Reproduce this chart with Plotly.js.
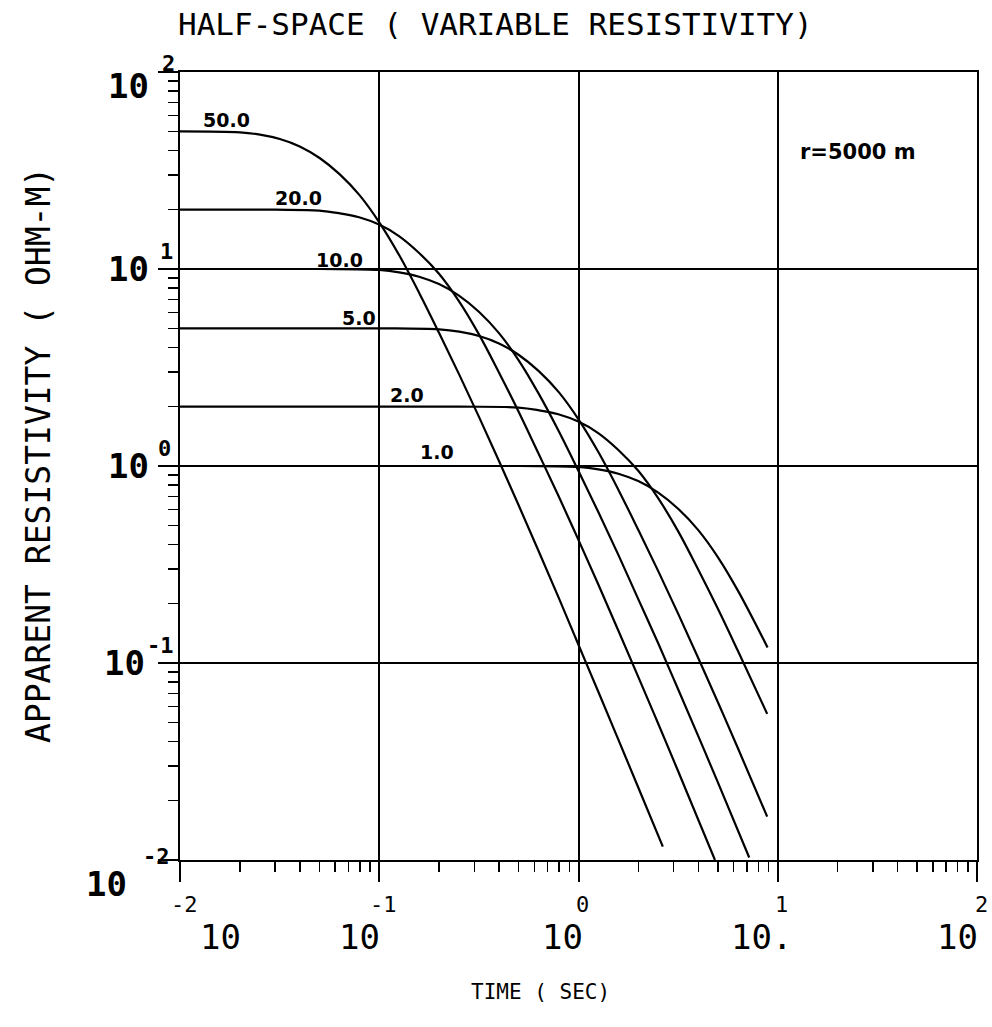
<!DOCTYPE html>
<html>
<head>
<meta charset="utf-8">
<script src="https://cdn.plot.ly/plotly-3.0.1.min.js"></script>
<style>
  html, body { margin: 0; padding: 0; background: #fff; }
  #chart { width: 992px; height: 1027px; }
</style>
</head>
<body>
<div id="chart"></div>
<script>
// Apparent resistivity of a homogeneous half-space, offset r = 5000 m,
// one curve per true resistivity (ohm-m).
const resistivities = [50, 20, 10, 5, 2, 1];
const curveLabels = ["50.0", "20.0", "10.0", "5.0", "2.0", "1.0"];

const time50 = [0.01, 0.02, 0.0252, 0.0317, 0.0399, 0.0502, 0.0632, 0.0796, 0.1002, 0.1262, 0.1589, 0.200, 0.252, 0.317, 0.399, 0.502, 0.632, 0.796, 1.002, 1.262, 1.589, 2.00, 2.65];
const rhoA50 = [50, 49.4, 48.1, 45.7, 41.9, 36.6, 30.3, 23.7, 17.2, 11.7, 7.54, 4.72, 2.91, 1.77, 1.06, 0.628, 0.368, 0.214, 0.123, 0.0708, 0.0406, 0.0232, 0.0117];

const time20 = [0.01, 0.03, 0.05, 0.0629, 0.0792, 0.0998, 0.1256, 0.158, 0.199, 0.251, 0.316, 0.397, 0.5, 0.629, 0.792, 0.998, 1.256, 1.58, 1.99, 2.51, 3.16, 4.84];
const rhoA20 = [20, 20, 19.8, 19.2, 18.3, 16.8, 14.7, 12.1, 9.48, 6.87, 4.67, 3.01, 1.89, 1.16, 0.708, 0.423, 0.251, 0.147, 0.0855, 0.0493, 0.0283, 0.0100];

const time10 = [0.01, 0.05, 0.1, 0.1259, 0.1585, 0.1995, 0.2512, 0.3162, 0.398, 0.501, 0.631, 0.794, 1.0, 1.259, 1.585, 1.995, 2.512, 3.162, 3.981, 5.012, 7.19];
const rhoA10 = [10, 10, 9.89, 9.62, 9.14, 8.38, 7.33, 6.07, 4.74, 3.44, 2.33, 1.51, 0.944, 0.582, 0.354, 0.211, 0.126, 0.0736, 0.0428, 0.0247, 0.0103];

const time5 = [0.01, 0.1, 0.2, 0.252, 0.317, 0.399, 0.502, 0.632, 0.796, 1.002, 1.262, 1.589, 2.0, 2.52, 3.17, 3.99, 5.02, 6.32, 8.85];
const rhoA5 = [5, 5, 4.94, 4.81, 4.57, 4.19, 3.66, 3.03, 2.37, 1.72, 1.17, 0.754, 0.472, 0.291, 0.177, 0.106, 0.0628, 0.0368, 0.0166];

const time2 = [0.01, 0.25, 0.5, 0.629, 0.792, 0.998, 1.256, 1.58, 1.99, 2.51, 3.16, 3.97, 5.0, 6.29, 8.85];
const rhoA2 = [2, 2, 1.98, 1.92, 1.83, 1.68, 1.47, 1.21, 0.948, 0.687, 0.467, 0.301, 0.189, 0.116, 0.0552];

const time1 = [0.01, 0.5, 1.0, 1.259, 1.585, 1.995, 2.512, 3.162, 3.981, 5.012, 6.31, 8.89];
const rhoA1 = [1, 1, 0.989, 0.962, 0.914, 0.838, 0.733, 0.607, 0.474, 0.344, 0.233, 0.120];

const decadeExponents = [-2, -1, 0, 1, 2];
const decadeMantissaX = ["10", "10", "10", "10.", "10"];
const exponentText = ["-2", "-1", "0", "1", "2"];

const titleText = "HALF-SPACE ( VARIABLE RESISTIVITY)";
const xTitleText = "TIME ( SEC)";
const yTitleText = "APPARENT RESISTIVITY ( OHM-M)";
const offsetText = "r=5000 m";

const series = [
  [time50, rhoA50], [time20, rhoA20], [time10, rhoA10],
  [time5, rhoA5], [time2, rhoA2], [time1, rhoA1]
];

const traces = series.map((s, i) => ({
  x: s[0], y: s[1], type: "scatter", mode: "lines",
  name: curveLabels[i],
  line: { color: "#000", width: 2.2, shape: "spline", smoothing: 1 },
  hoverinfo: "skip", showlegend: false
}));

// plot frame in pixels
const L = 180, R = 977, T = 72, B = 860;
const W = 992, H = 1027;
const px = x => (x - L) / (R - L);
const py = y => (B - y) / (B - T);

const plotter = "DejaVu Sans Mono, monospace";
const stencil = "DejaVu Sans, sans-serif";

const ann = [];
function addText(text, x, y, size, family, extra) {
  ann.push(Object.assign({
    text: text, xref: "paper", yref: "paper", x: px(x), y: py(y),
    xanchor: "center", yanchor: "middle", showarrow: false,
    font: { family: family, size: size, color: "#000" }
  }, extra || {}));
}

// x-axis decade labels: mantissa below, exponent above
const xMantissaShift = [40, -20, -16, -16, -20];
decadeExponents.forEach((e, i) => {
  const tx = L + (e + 2) * (R - L) / 4;
  addText(decadeMantissaX[i], tx + xMantissaShift[i], 937, 34, plotter);
  addText(exponentText[i], tx + 4, 904, 22, plotter);
});

// y-axis decade labels
const yMantissaX = [128, 128, 128, 124, 106];
const yExpX = [168, 166, 164, 160, 156];
decadeExponents.slice().reverse().forEach((e, i) => {
  const ty = T + i * (B - T) / 4;
  const expo = String(e);
  const yM = (e === -2) ? ty + 24 : ty + (e === 2 ? 14 : 0);
  const yE = (e === -2) ? ty - 4 : ty + (e === 2 ? -8 : -18);
  addText("10", yMantissaX[i], yM, 34, plotter, { font: { family: plotter, size: 34, color: "#000", weight: "bold" } });
  addText(expo, yExpX[i], yE, 22, plotter, { font: { family: plotter, size: 22, color: "#000", weight: "bold" } });
});

// curve labels
const labelPos = [[226, 120], [298, 198], [339, 260], [359, 318], [407, 395], [437, 452]];
curveLabels.forEach((t, i) => {
  addText(t, labelPos[i][0], labelPos[i][1], 19, stencil, { font: { family: stencil, size: 19, color: "#000", weight: "bold" } });
});
addText(offsetText, 858, 152, 21, stencil, { font: { family: stencil, size: 21, color: "#000", weight: "bold" } });

// titles
addText(titleText, 495, 24, 31, plotter);
addText(xTitleText, 540, 992, 21, plotter);
addText(yTitleText, 38, 455, 33, plotter, { textangle: -90 });

const axisCommon = {
  type: "log", range: [-2, 2], dtick: 1, tick0: 0,
  showgrid: true, gridcolor: "#000", gridwidth: 2,
  ticks: "outside", ticklen: 20, tickwidth: 2, tickcolor: "#000",
  showticklabels: false,
  showline: true, linecolor: "#000", linewidth: 2, mirror: true,
  zeroline: false, fixedrange: true,
  minor: { ticks: "outside", ticklen: 10, tickwidth: 1.5, tickcolor: "#000", dtick: "D1", showgrid: false }
};

const layout = {
  width: W, height: H,
  margin: { l: L, r: W - R, t: T, b: H - B, pad: 0 },
  paper_bgcolor: "#fff", plot_bgcolor: "#fff",
  xaxis: Object.assign({}, axisCommon),
  yaxis: Object.assign({}, axisCommon),
  annotations: ann,
  showlegend: false
};

Plotly.newPlot("chart", traces, layout, { staticPlot: true, displayModeBar: false });
</script>
</body>
</html>
